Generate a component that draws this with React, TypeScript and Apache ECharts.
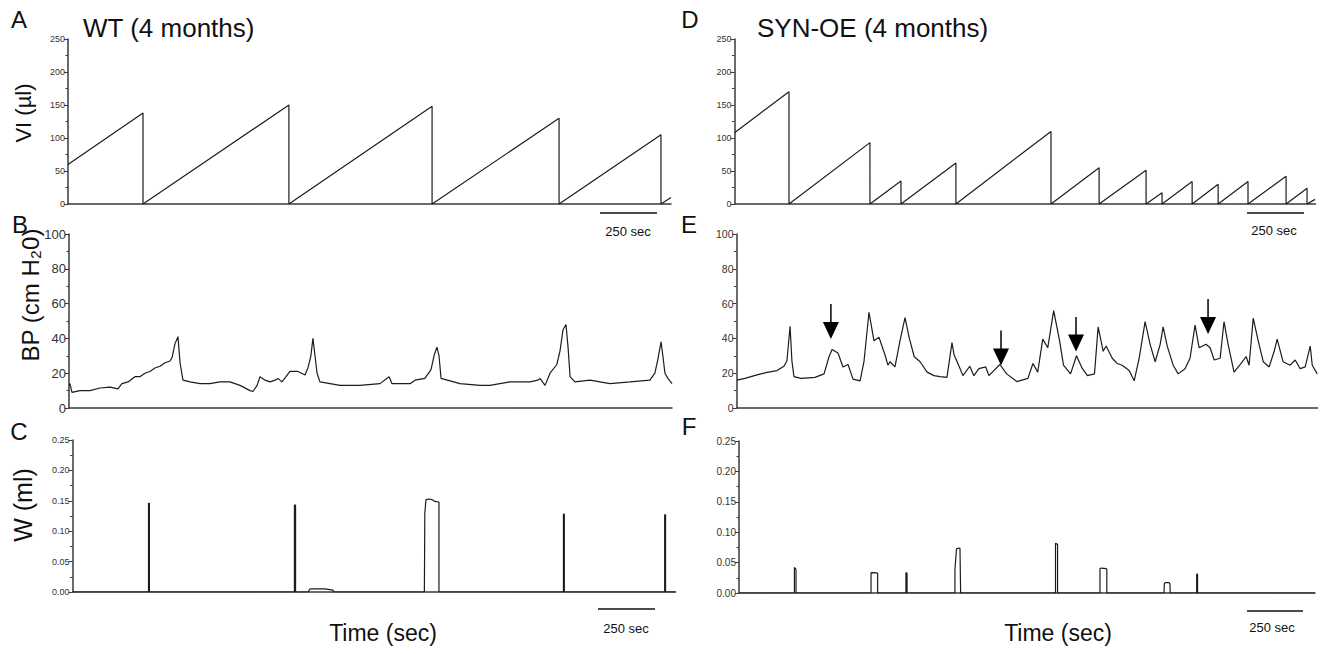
import React, { useEffect, useRef } from "react";
import * as echarts from "echarts";

const FONT = '"Liberation Sans", Arial, Helvetica, sans-serif';
const INK = "#1c1c1c";
const AXIS = "#3a3a3a";

// ---------- data (time in seconds) ----------
// Panel A: WT intravesical volume (µl)
const wtVolume: [number, number][] = [
  [0, 60], [329, 138], [329, 0], [969, 150], [969, 0], [1597, 148], [1597, 0],
  [2154, 130], [2154, 0], [2601, 105], [2601, 0], [2645, 10],
];

// Panel D: SYN-OE intravesical volume (µl)
const synVolume: [number, number][] = [
  [0, 108], [239, 170], [239, 0], [594, 93], [594, 0], [730, 35], [730, 0],
  [971, 62], [971, 0], [1388, 110], [1388, 0], [1599, 55], [1599, 0],
  [1805, 51], [1805, 0], [1875, 17], [1875, 0], [2007, 34], [2007, 0],
  [2121, 30], [2121, 0], [2252, 34], [2252, 0], [2419, 42], [2419, 0],
  [2511, 24], [2511, 0], [2546, 7],
];

// Panel B: WT bladder pressure (cm H2O)
const wtPressure: [number, number][] = [
  [0, 13], [4, 14], [13, 9], [48, 10], [92, 10], [136, 11.5], [180, 12], [215, 11],
  [232, 14], [259, 15], [289, 18], [311, 18], [333, 20], [355, 21], [377, 23],
  [399, 24], [421, 26], [443, 27], [452, 29], [465, 37], [478, 41], [487, 26],
  [500, 16], [531, 15], [575, 14], [618, 14], [662, 15], [706, 15], [750, 13],
  [794, 10], [807, 9.5], [825, 13], [838, 18], [860, 16], [882, 15], [904, 16],
  [917, 17], [934, 15], [952, 18], [969, 21], [1004, 21], [1035, 19], [1048, 23],
  [1061, 30], [1070, 40], [1079, 30], [1088, 20], [1101, 15], [1189, 13],
  [1276, 13], [1364, 14], [1404, 18], [1417, 14], [1496, 14], [1518, 16],
  [1561, 17], [1588, 22], [1601, 30], [1614, 35], [1623, 30], [1632, 17],
  [1715, 14], [1803, 13], [1847, 13], [1890, 14], [1934, 15], [2022, 15],
  [2057, 16], [2066, 17], [2088, 13], [2110, 20], [2140, 25], [2154, 33],
  [2167, 45], [2180, 48], [2189, 35], [2198, 18], [2219, 15], [2285, 16],
  [2373, 14], [2461, 15], [2548, 16], [2570, 20], [2583, 28], [2597, 38],
  [2605, 30], [2614, 20], [2627, 17], [2645, 14],
];

// Panel E: SYN-OE bladder pressure (cm H2O)
const synPressure: [number, number][] = [
  [2, 16], [37, 17], [90, 19], [134, 20.5], [178, 21.5], [208, 24], [221, 27],
  [235, 47], [243, 27], [252, 18], [283, 17], [344, 17.6], [384, 19.6],
  [406, 29.6], [419, 33.6], [445, 31.6], [467, 23.6], [489, 25], [511, 16.6],
  [542, 15.6], [559, 26.6], [581, 55], [603, 38.6], [625, 40.6], [651, 30.6],
  [664, 24.6], [673, 26.6], [695, 23.6], [717, 38.6], [739, 52], [757, 40.6],
  [779, 29.6], [805, 26.6], [836, 20.6], [866, 18.6], [893, 18], [923, 17.6],
  [945, 37.6], [954, 30.6], [971, 25.6], [993, 18.6], [1023, 24], [1041, 18.6],
  [1063, 22.6], [1093, 23.6], [1107, 18.6], [1155, 25], [1185, 19.6],
  [1229, 15.2], [1278, 17], [1300, 25.6], [1321, 20.6], [1343, 39.6],
  [1365, 34.6], [1391, 56], [1417, 38.6], [1434, 24.6], [1465, 19.6],
  [1491, 30], [1517, 22.6], [1539, 18.6], [1570, 19.6], [1586, 46.6],
  [1608, 32.6], [1621, 35.6], [1648, 28.6], [1669, 25.6], [1691, 24.6],
  [1722, 21.6], [1744, 15.6], [1766, 28.6], [1792, 49.6], [1814, 36.6],
  [1836, 26.6], [1858, 36.6], [1871, 46.6], [1889, 35.6], [1915, 24.6],
  [1937, 19.6], [1967, 22.6], [1989, 28.6], [2011, 47.6], [2029, 34.6],
  [2059, 36.6], [2077, 34.6], [2095, 27.6], [2121, 28.6], [2138, 49.6],
  [2156, 36.6], [2182, 20.6], [2213, 25.6], [2235, 29.6], [2248, 24.6],
  [2266, 51.6], [2288, 38.6], [2310, 26.6], [2336, 23.6], [2358, 32.6],
  [2371, 39.6], [2397, 26.6], [2428, 24.6], [2450, 27.6], [2472, 22.6],
  [2494, 23.6], [2516, 35.6], [2525, 24.6], [2547, 19.6],
];

// Arrows on panel E: [time, tip value, shaft-top value]
const synArrows: [number, number, number][] = [
  [414, 39.7, 59.8], [1160, 24.4, 44.5], [1489, 32.5, 52.3], [2068, 42.5, 62.6],
];

// Panel C: WT voided volume (ml)
const wtVoided: [number, number][] = [
  [0, 0], [333, 0], [333, 0.146], [337, 0.146], [337, 0],
  [973, 0], [973, 0.143], [978, 0.143], [978, 0],
  [1033, 0], [1041, 0.005], [1107, 0.005], [1142, 0.003], [1147, 0],
  [1543, 0], [1545, 0.13], [1550, 0.152], [1563, 0.153], [1576, 0.152],
  [1589, 0.149], [1607, 0.148], [1607, 0],
  [2153, 0], [2153, 0.128], [2157, 0.128], [2157, 0],
  [2597, 0], [2597, 0.127], [2601, 0.127], [2601, 0],
  [2645, 0],
];

// Panel F: SYN-OE voided volume (ml)
const synVoided: [number, number][] = [
  [0, 0], [243, 0], [243, 0.042], [250, 0.039], [250, 0],
  [579, 0], [579, 0.033], [583, 0.0335], [605, 0.033], [608, 0.032], [608, 0],
  [732, 0], [732, 0.033], [737, 0.033], [737, 0],
  [947, 0], [947, 0.039], [954, 0.073], [969, 0.074], [972, 0.074], [972, 0],
  [1388, 0], [1388, 0.082], [1397, 0.08], [1397, 0],
  [1583, 0], [1583, 0.04], [1588, 0.041], [1610, 0.04], [1613, 0.039], [1613, 0],
  [1864, 0], [1865, 0.015], [1869, 0.017], [1886, 0.017], [1890, 0.015], [1891, 0],
  [2007, 0], [2007, 0.031], [2011, 0.031], [2011, 0],
  [2526, 0],
];

// ---------- layout ----------
const SEC_PER_PX = 4.386;
const panels = [
  { left: 68, top: 39, width: 603, height: 165, max: 250, interval: 50, fs: 9, dec: 0 },
  { left: 69, top: 234, width: 603, height: 174, max: 100, interval: 20, fs: 13, dec: 0 },
  { left: 72.6, top: 440, width: 603, height: 152, max: 0.25, interval: 0.05, fs: 9, dec: 2 },
  { left: 734.5, top: 39, width: 581, height: 165, max: 250, interval: 50, fs: 9, dec: 0 },
  { left: 736.5, top: 234, width: 581, height: 174, max: 100, interval: 20, fs: 10.5, dec: 0 },
  { left: 739, top: 441, width: 576, height: 152, max: 0.25, interval: 0.05, fs: 10, dec: 2 },
];
const seriesData = [wtVolume, wtPressure, wtVoided, synVolume, synPressure, synVoided];

function txt(text: string, x: number, y: number, size: number, extra: any = {}) {
  return {
    type: "text",
    x,
    y,
    silent: true,
    ...extra,
    style: {
      text,
      fill: "#111",
      font: `${size}px ${FONT}`,
      textAlign: "center",
      textVerticalAlign: "middle",
      ...(extra.style || {}),
    },
  };
}
function bar(x1: number, x2: number, y: number) {
  return {
    type: "line",
    silent: true,
    shape: { x1, y1: y, x2, y2: y },
    style: { stroke: "#111", lineWidth: 1.5 },
  };
}

export default function App() {
  const ref = useRef<HTMLDivElement>(null);
  useEffect(() => {
    if (!ref.current) return;
    const chart = echarts.init(ref.current, undefined, { renderer: "svg" });
    const grid = panels.map((p) => ({
      left: p.left,
      top: p.top,
      width: p.width,
      height: p.height,
      containLabel: false,
    }));
    const xAxis = panels.map((p, i) => ({
      type: "value",
      gridIndex: i,
      min: 0,
      max: Math.round(p.width * SEC_PER_PX),
      axisLine: { show: true, onZero: false, lineStyle: { color: AXIS, width: 1.5 } },
      axisTick: { show: false },
      axisLabel: { show: false },
      splitLine: { show: false },
    }));
    const yAxis = panels.map((p, i) => ({
      type: "value",
      gridIndex: i,
      min: 0,
      max: p.max,
      interval: p.interval,
      axisLine: { show: true, lineStyle: { color: AXIS, width: 1.5 } },
      axisTick: { show: true, length: 4, lineStyle: { color: AXIS, width: 1 } },
      minorTick: { show: true, splitNumber: 2, length: 2.5, lineStyle: { color: AXIS, width: 1 } },
      splitLine: { show: false },
      axisLabel: {
        fontSize: p.fs,
        color: "#333",
        fontFamily: FONT,
        margin: 3,
        formatter: (v: number) => v.toFixed(p.dec),
      },
    }));
    const series: any[] = seriesData.map((d, i) => ({
      type: "line",
      xAxisIndex: i,
      yAxisIndex: i,
      data: d,
      showSymbol: false,
      symbol: "none",
      silent: true,
      lineStyle: { color: INK, width: 1.2 },
    }));
    series.push({
      type: "custom",
      xAxisIndex: 4,
      yAxisIndex: 4,
      data: synArrows,
      encode: { x: 0, y: [1, 2] },
      silent: true,
      clip: false,
      renderItem: (_params: any, api: any) => {
        const tip = api.coord([api.value(0), api.value(1)]);
        const top = api.coord([api.value(0), api.value(2)]);
        const headLen = 17;
        const halfW = 8;
        return {
          type: "group",
          children: [
            {
              type: "line",
              shape: { x1: top[0], y1: top[1], x2: tip[0], y2: tip[1] - headLen + 1 },
              style: { stroke: "#000", lineWidth: 1.5 },
            },
            {
              type: "polygon",
              shape: {
                points: [
                  [tip[0] - halfW, tip[1] - headLen],
                  [tip[0] + halfW, tip[1] - headLen],
                  [tip[0], tip[1]],
                ],
              },
              style: { fill: "#000" },
            },
          ],
        };
      },
    });

    const graphic: any[] = [
      txt("A", 19, 19, 24),
      txt("B", 20, 224, 24),
      txt("C", 19, 431, 24),
      txt("D", 690, 19, 24),
      txt("E", 689, 224, 24),
      txt("F", 689, 426, 24),
      txt("WT (4 months)", 83, 28, 26, { style: { textAlign: "left" } }),
      txt("SYN-OE (4 months)", 757, 28, 26, { style: { textAlign: "left" } }),
      txt("VI (µl)", 23, 113, 22, { rotation: Math.PI / 2 }),
      txt("BP (cm H₂0)", 30, 295, 24, { rotation: Math.PI / 2 }),
      txt("W (ml)", 23, 505, 25, { rotation: Math.PI / 2 }),
      txt("Time (sec)", 383, 633, 23),
      txt("Time (sec)", 1058, 633, 23),
      bar(600, 657, 213),
      txt("250 sec", 628, 231, 13),
      bar(1247, 1304, 213),
      txt("250 sec", 1274, 230, 13),
      bar(598, 655, 609),
      txt("250 sec", 626, 628, 13),
      bar(1247, 1303, 611),
      txt("250 sec", 1272, 627, 13),
    ];

    chart.setOption({
      animation: false,
      backgroundColor: "#ffffff",
      textStyle: { fontFamily: FONT },
      grid,
      xAxis,
      yAxis,
      series,
      graphic,
    });
    return () => chart.dispose();
  }, []);
  return (
    <div
      ref={ref}
      style={{ position: "absolute", left: 0, top: 0, width: 1325, height: 654, background: "#fff" }}
    />
  );
}
